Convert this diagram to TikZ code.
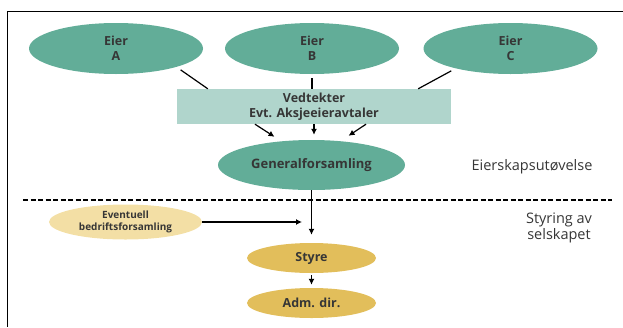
\documentclass[tikz,border=0pt]{standalone}
\usepackage{fontspec}
\setmainfont{Open Sans}
\usepackage{tikz}
\usetikzlibrary{shapes.geometric,arrows.meta}
\definecolor{eiergreen}{HTML}{62AD98}
\definecolor{vedtgreen}{HTML}{B0D5CC}
\definecolor{styregold}{HTML}{E2BE5B}
\definecolor{eventpale}{HTML}{F3DFA5}
\definecolor{txtgrey}{HTML}{363636}

\begin{document}
\begin{tikzpicture}[x=1pt,y=-1pt,>={Latex[length=6pt,width=6pt]},
  owner/.style={ellipse,fill=eiergreen,minimum width=174pt,minimum height=51pt,inner sep=0pt,align=center,text=txtgrey,font=\bfseries\fontsize{12.5}{15}\selectfont},
  vedtbox/.style={rectangle,fill=vedtgreen,minimum width=274pt,minimum height=35pt,inner sep=0pt,align=center,text=txtgrey,font=\bfseries\fontsize{12.5}{15}\selectfont},
  gfnode/.style={ellipse,fill=eiergreen,minimum width=187pt,minimum height=50pt,inner sep=0pt,text=txtgrey,font=\bfseries\fontsize{13}{15}\selectfont},
  eventnode/.style={ellipse,fill=eventpale,minimum width=153pt,minimum height=35pt,inner sep=0pt,align=center,text=txtgrey,font=\bfseries\fontsize{10}{12}\selectfont},
  board/.style={ellipse,fill=styregold,minimum width=129pt,minimum height=30pt,inner sep=0pt,text=txtgrey,font=\bfseries\fontsize{12.5}{15}\selectfont},
  sidetext/.style={align=center,text=txtgrey,font=\fontsize{14.5}{14}\selectfont},
  link/.style={line width=1.2pt},
  arr/.style={->,line width=1.2pt}]
  \useasboundingbox (0,0) rectangle (623,327);
  \draw[line width=1pt] (623,11) -- (7,11) -- (7,327);
  \node[owner] (eierA) at (116,48.5) {Eier\\A};
  \node[owner] (eierB) at (312,48.5) {Eier\\B};
  \node[owner] (eierC) at (510.5,48.5) {Eier\\C};
  \node[vedtbox] (vedt) at (314,106.5) {Vedtekter\\Evt. Aksjeeieravtaler};
  \node[gfnode] (gf) at (311.5,165) {Generalforsamling};
  \node[sidetext] (eiersk) at (532,167) {Eierskapsutøvelse};
  \draw[dash pattern=on 5pt off 2.5pt,line width=1.2pt] (23,200) -- (612,200);
  \node[sidetext] (styring) at (559,228) {Styring av\\selskapet};
  \node[eventnode] (event) at (125.5,222) {Eventuell\\bedriftsforsamling};
  \coordinate (meet) at (302,222);
  \node[board] (styre) at (311.5,258) {Styre};
  \node[board] (adm) at (311.5,303) {Adm. dir.};
  \draw[link,shorten <=5pt] (eierA.-17) -- ([xshift=31pt]vedt.north west);
  \draw[link,shorten <=4pt] (eierB) -- (eierB |- vedt.north);
  \draw[link,shorten <=5pt] (eierC.200) -- ([xshift=-33pt]vedt.north east);
  \draw[arr] ([xshift=-59pt]vedt.south) -- ([xshift=-37pt,yshift=3pt]gf.north);
  \draw[arr,shorten >=5pt] (vedt.south) -- (vedt.south |- gf.north);
  \draw[arr] ([xshift=52pt]vedt.south) -- ([xshift=37pt,yshift=4pt]gf.north);
  \draw[arr,shorten >=8pt] (gf) -- (styre);
  \draw[arr] (event) -- (meet);
  \draw[arr,shorten <=2pt,shorten >=3pt] (styre) -- (adm);
\end{tikzpicture}
\end{document}
